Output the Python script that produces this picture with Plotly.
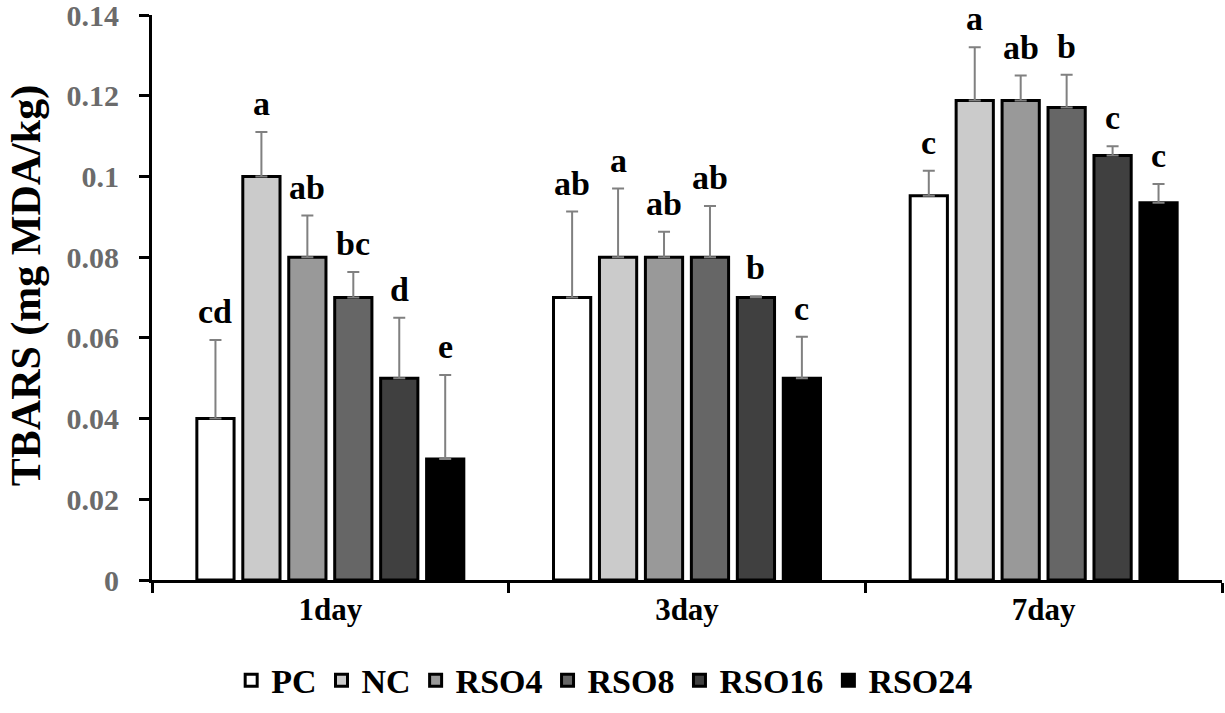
import plotly.graph_objects as go

days = ["1day", "3day", "7day"]
groups = ["PC", "NC", "RSO4", "RSO8", "RSO16", "RSO24"]
colors = ["#ffffff", "#cbcbcb", "#999999", "#666666", "#404040", "#000000"]

means = {
    "PC":    [0.040, 0.070, 0.0952],
    "NC":    [0.100, 0.080, 0.1188],
    "RSO4":  [0.080, 0.080, 0.1188],
    "RSO8":  [0.070, 0.080, 0.1171],
    "RSO16": [0.050, 0.070, 0.1052],
    "RSO24": [0.030, 0.050, 0.0935],
}
errors = {
    "PC":    [0.0195, 0.0213, 0.0062],
    "NC":    [0.0110, 0.0170, 0.0132],
    "RSO4":  [0.0103, 0.0063, 0.0062],
    "RSO8":  [0.0063, 0.0127, 0.0081],
    "RSO16": [0.0150, 0.0003, 0.0023],
    "RSO24": [0.0208, 0.0103, 0.0046],
}
letters = {
    "PC":    ["cd", "ab", "c"],
    "NC":    ["a", "a", "a"],
    "RSO4":  ["ab", "ab", "ab"],
    "RSO8":  ["bc", "ab", "b"],
    "RSO16": ["d", "b", "c"],
    "RSO24": ["e", "c", "c"],
}
y_title = "TBARS (mg MDA/kg)"

FONT = "Liberation Serif"
bargap = 0.227
bargroupgap = 0.19
L, R, T, B = 152, 3, 15, 118
W, H = 1225, 713

fig = go.Figure()
for g, c in zip(groups, colors):
    fig.add_trace(go.Bar(
        name="<b>" + g + "</b>", x=days, y=means[g],
        marker=dict(color=c, line=dict(color="#000000", width=3)),
        error_y=dict(type="data", array=errors[g], symmetric=False,
                     arrayminus=[0] * len(days), color="#808080",
                     thickness=2, width=6),
    ))

n = len(groups)
slot = (1 - bargap) / n
annotations = []
for i, g in enumerate(groups):
    off = -(1 - bargap) / 2 + (i + 0.5) * slot
    for j, d in enumerate(days):
        annotations.append(dict(
            x=j + off, y=means[g][j] + errors[g][j], xref="x", yref="y",
            text="<b>" + letters[g][j] + "</b>", showarrow=False,
            yanchor="bottom", yshift=8,
            font=dict(family=FONT, size=34, color="#000000"),
        ))
# y-axis title
annotations.append(dict(
    x=-(L - 26) / (W - L - R), xref="paper", y=0.52, yref="paper",
    text="<b>" + y_title + "</b>", textangle=-90, showarrow=False,
    xanchor="center", yanchor="middle",
    font=dict(family=FONT, size=42, color="#000000"),
))

fig.update_layout(
    width=W, height=H,
    margin=dict(l=L, r=R, t=T, b=B),
    paper_bgcolor="#ffffff", plot_bgcolor="#ffffff",
    barmode="group", bargap=bargap, bargroupgap=bargroupgap,
    annotations=annotations,
    legend=dict(orientation="h", x=0.074, xanchor="left", y=-0.178,
                yanchor="middle", font=dict(family=FONT, size=34, color="#000000"),
                itemwidth=30, tracegroupgap=0, traceorder="normal"),
    font=dict(family=FONT, color="#000000"),
)
fig.update_xaxes(
    type="category", showline=True, linecolor="#000000", linewidth=3,
    ticks="outside", tickson="boundaries", ticklen=10, tickwidth=3,
    tickcolor="#000000", showgrid=False, automargin=False,
    tickfont=dict(family=FONT, size=31, color="#000000"),
    tickprefix="<b>", ticksuffix="</b>",
)
fig.update_yaxes(
    range=[0, 0.1400001], dtick=0.02, showline=True, linecolor="#000000",
    linewidth=3, ticks="outside", ticklen=10, tickwidth=3, tickcolor="#000000",
    showgrid=False, zeroline=False, automargin=False,
    ticklabeloverflow="allow", ticklabelstandoff=14,
    tickfont=dict(family=FONT, size=30, color="#6b6b6b"),
    tickprefix="<b>", ticksuffix="</b>",
)

fig.write_html("out.html", config={"displayModeBar": False},
               post_script="document.body.style.margin='0';")
